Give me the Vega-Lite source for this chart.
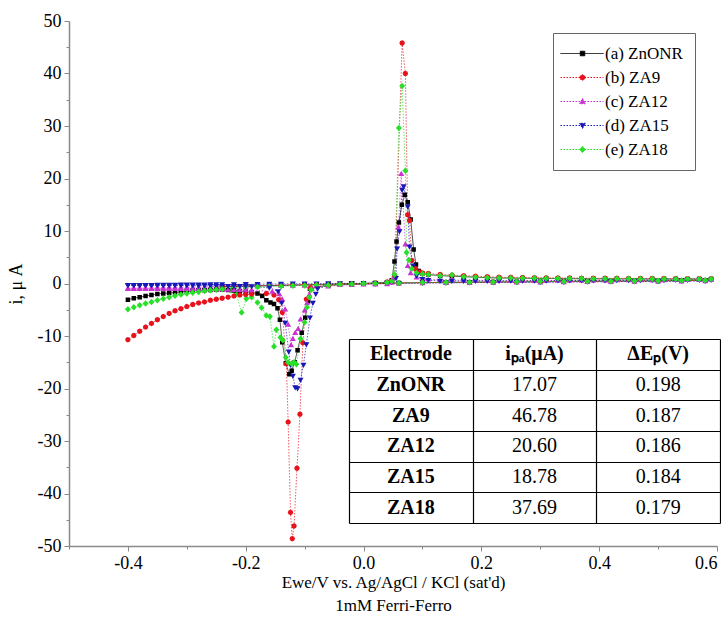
{
  "$schema": "https://vega.github.io/schema/vega-lite/v6.json",
  "width": 648,
  "height": 525,
  "autosize": {"type": "none"},
  "padding": {"left": 69, "top": 21, "right": 4, "bottom": 81},
  "background": "white",
  "config": {
    "view": {"stroke": null},
    "axis": {
      "labelFont": "Liberation Serif", "titleFont": "Liberation Serif",
      "labelFontSize": 18, "titleFontSize": 18, "titleFontWeight": "normal",
      "labelColor": "black", "titleColor": "black",
      "domainColor": "#8a8a8a", "domainWidth": 1.5, "tickColor": "#8a8a8a", "tickWidth": 1,
      "grid": false
    },
    "legend": {"labelFont": "Liberation Serif", "labelFontSize": 17, "labelColor": "black", "symbolStrokeWidth": 1}
  },
  "datasets": {
    "names": [
      {"k": "a", "name": "(a) ZnONR"},
      {"k": "b", "name": "(b) ZA9"},
      {"k": "c", "name": "(c) ZA12"},
      {"k": "d", "name": "(d) ZA15"},
      {"k": "e", "name": "(e) ZA18"}
    ],
    "cv": [
      {"o":1,"x":-0.40,"c":-0.9,"d":-0.35},
      {"o":1.5,"x":-0.39,"c":-0.88,"d":-0.34},
      {"o":2,"x":-0.38,"c":-0.87,"d":-0.33},
      {"o":2.5,"x":-0.37,"c":-0.85,"d":-0.32},
      {"o":3,"x":-0.36,"c":-0.84,"d":-0.31},
      {"o":3.5,"x":-0.35,"c":-0.82,"d":-0.3},
      {"o":4,"x":-0.34,"c":-0.8,"d":-0.29},
      {"o":4.5,"x":-0.33,"c":-0.78,"d":-0.28},
      {"o":5,"x":-0.32,"c":-0.77,"d":-0.27},
      {"o":5.5,"x":-0.31,"c":-0.75,"d":-0.26},
      {"o":6,"x":-0.30,"c":-0.73,"d":-0.25},
      {"o":6.5,"x":-0.29,"c":-0.71,"d":-0.24},
      {"o":7,"x":-0.28,"c":-0.7,"d":-0.23},
      {"o":7.5,"x":-0.27,"c":-0.68,"d":-0.22},
      {"o":8,"x":-0.26,"c":-0.66,"d":-0.21},
      {"o":8.5,"x":-0.25,"c":-0.64,"d":-0.2},
      {"o":9,"x":-0.24,"a":-0.6,"b":-0.5,"c":-0.62,"d":-0.19,"e":-0.9},
      {"o":10,"x":-0.22,"a":-0.55,"b":-0.46,"c":-0.58,"d":-0.17,"e":-0.82},
      {"o":11,"x":-0.20,"a":-0.5,"b":-0.42,"c":-0.55,"d":-0.15,"e":-0.74},
      {"o":12,"x":-0.18,"a":-0.45,"b":-0.38,"c":-0.5,"d":-0.13,"e":-0.66},
      {"o":13,"x":-0.16,"a":-0.4,"b":-0.34,"c":-0.47,"d":-0.11,"e":-0.58},
      {"o":14,"x":-0.14,"a":-0.35,"b":-0.3,"c":-0.43,"d":-0.09,"e":-0.5},
      {"o":15,"x":-0.12,"a":-0.3,"b":-0.26,"c":-0.4,"d":-0.07,"e":-0.43},
      {"o":16,"x":-0.10,"a":-0.25,"b":-0.22,"c":-0.36,"d":-0.05,"e":-0.36},
      {"o":17,"x":-0.08,"a":-0.2,"b":-0.18,"c":-0.32,"d":-0.03,"e":-0.29},
      {"o":18,"x":-0.06,"a":-0.15,"b":-0.14,"c":-0.28,"d":-0.01,"e":-0.22},
      {"o":19,"x":-0.04,"a":-0.1,"b":-0.1,"c":-0.24,"d":0.01,"e":-0.15},
      {"o":20,"x":-0.02,"a":-0.05,"b":-0.05,"c":-0.2,"d":0.03,"e":-0.08},
      {"o":21,"x":0.00,"a":0,"b":0,"c":-0.16,"d":0.05,"e":0},
      {"o":22,"x":0.02,"a":0.1,"b":0.1,"c":-0.12,"d":0.07,"e":0.1},
      {"o":23,"x":0.04,"a":0.2,"b":0.3,"c":-0.08,"d":0.1,"e":0.2},
      {"o":24,"x":0.048,"a":0.6,"b":0.5,"c":0.2,"d":0.3,"e":0.5},
      {"o":30,"x":0.0525,"a":4.2},
      {"o":31,"x":0.056,"a":8.0},
      {"o":32,"x":0.06,"a":11.6},
      {"o":33,"x":0.065,"a":15.0},
      {"o":34,"x":0.07,"a":16.9},
      {"o":35,"x":0.075,"a":15.5},
      {"o":36,"x":0.08,"a":12.2},
      {"o":37,"x":0.085,"a":6.5},
      {"o":38,"x":0.089,"a":3.6},
      {"o":39,"x":0.094,"a":2.4},
      {"o":40,"x":0.1,"a":1.9},
      {"o":30,"x":0.053,"b":1.5},
      {"o":32,"x":0.0655,"b":45.8},
      {"o":34,"x":0.071,"b":40.0},
      {"o":35,"x":0.075,"b":13.1},
      {"o":36,"x":0.078,"b":12.0},
      {"o":37,"x":0.082,"b":4.4},
      {"o":38,"x":0.088,"b":2.8},
      {"o":39,"x":0.095,"b":2.2},
      {"o":40,"x":0.1,"b":2.0},
      {"o":30,"x":0.0525,"c":1.2},
      {"o":31,"x":0.059,"c":10.7},
      {"o":33,"x":0.064,"c":20.9},
      {"o":35,"x":0.071,"c":7.5},
      {"o":37,"x":0.075,"c":3.4},
      {"o":38,"x":0.08,"c":2.0},
      {"o":39,"x":0.09,"c":1.2},
      {"o":40,"x":0.1,"c":0.9},
      {"o":30,"x":0.055,"d":1.0},
      {"o":31,"x":0.057,"d":6.6},
      {"o":32,"x":0.061,"d":9.9},
      {"o":33,"x":0.0655,"d":17.8},
      {"o":34,"x":0.068,"d":18.5},
      {"o":35,"x":0.075,"d":14.6},
      {"o":36,"x":0.078,"d":7.0},
      {"o":37,"x":0.084,"d":3.4},
      {"o":38,"x":0.09,"d":1.5},
      {"o":40,"x":0.1,"d":0.8},
      {"o":30,"x":0.0525,"e":1.7},
      {"o":32,"x":0.06,"e":29.6},
      {"o":33,"x":0.0655,"e":37.6},
      {"o":34,"x":0.071,"e":21.5},
      {"o":35,"x":0.073,"e":5.9},
      {"o":36,"x":0.077,"e":4.5},
      {"o":37,"x":0.082,"e":2.8},
      {"o":38,"x":0.09,"e":2.0},
      {"o":40,"x":0.1,"e":1.8},
      {"o":50,"x":0.11,"a":1.7,"b":1.9,"c":0.8,"d":0.6,"e":1.7},
      {"o":51,"x":0.13,"a":1.5,"b":1.7,"c":0.7,"d":0.5,"e":1.5},
      {"o":52,"x":0.15,"a":1.4,"b":1.6,"c":0.7,"d":0.5,"e":1.6},
      {"o":53,"x":0.17,"a":1.3,"b":1.5,"c":0.6,"d":0.5,"e":1.3},
      {"o":54,"x":0.19,"a":1.2,"b":1.4,"c":0.6,"d":0.5,"e":1.2},
      {"o":55,"x":0.21,"a":1.1,"b":1.3,"c":0.6,"d":0.5,"e":1.1},
      {"o":60,"x":0.23,"a":1.05,"b":1.2,"c":0.55,"d":0.5,"e":1.05},
      {"o":61,"x":0.25,"a":1.03,"b":1.17,"c":0.56,"d":0.51,"e":1.03},
      {"o":62,"x":0.27,"a":1.0,"b":1.14,"c":0.57,"d":0.52,"e":1.01},
      {"o":63,"x":0.29,"a":0.98,"b":1.11,"c":0.58,"d":0.53,"e":0.99},
      {"o":64,"x":0.31,"a":0.96,"b":1.08,"c":0.59,"d":0.54,"e":0.97},
      {"o":65,"x":0.33,"a":0.95,"b":1.06,"c":0.6,"d":0.55,"e":0.95},
      {"o":66,"x":0.35,"a":0.93,"b":1.04,"c":0.61,"d":0.56,"e":0.94},
      {"o":67,"x":0.37,"a":0.92,"b":1.02,"c":0.62,"d":0.57,"e":0.93},
      {"o":68,"x":0.39,"a":0.9,"b":1.0,"c":0.63,"d":0.58,"e":0.92},
      {"o":69,"x":0.41,"a":0.9,"b":0.99,"c":0.64,"d":0.59,"e":0.91},
      {"o":70,"x":0.43,"a":0.89,"b":0.98,"c":0.65,"d":0.6,"e":0.9},
      {"o":71,"x":0.45,"a":0.88,"b":0.97,"c":0.66,"d":0.61,"e":0.89},
      {"o":72,"x":0.47,"a":0.88,"b":0.96,"c":0.67,"d":0.62,"e":0.88},
      {"o":73,"x":0.49,"a":0.87,"b":0.95,"c":0.68,"d":0.63,"e":0.87},
      {"o":74,"x":0.51,"a":0.87,"b":0.94,"c":0.69,"d":0.64,"e":0.86},
      {"o":75,"x":0.53,"a":0.86,"b":0.93,"c":0.7,"d":0.65,"e":0.86},
      {"o":76,"x":0.55,"a":0.86,"b":0.92,"c":0.71,"d":0.66,"e":0.85},
      {"o":77,"x":0.57,"a":0.85,"b":0.91,"c":0.72,"d":0.67,"e":0.85},
      {"o":78,"x":0.59,"a":0.85,"b":0.9,"c":0.73,"d":0.68,"e":0.85},
      {"o":100,"x":0.58,"a":0.6,"b":0.6,"c":0.5,"d":0.5,"e":0.6},
      {"o":101,"x":0.54,"a":0.55,"b":0.55,"c":0.45,"d":0.46,"e":0.56},
      {"o":102,"x":0.50,"a":0.5,"b":0.5,"c":0.41,"d":0.42,"e":0.52},
      {"o":103,"x":0.46,"a":0.47,"b":0.47,"c":0.38,"d":0.39,"e":0.48},
      {"o":104,"x":0.42,"a":0.44,"b":0.44,"c":0.35,"d":0.36,"e":0.45},
      {"o":105,"x":0.38,"a":0.41,"b":0.41,"c":0.32,"d":0.33,"e":0.42},
      {"o":106,"x":0.34,"a":0.38,"b":0.38,"c":0.29,"d":0.3,"e":0.39},
      {"o":107,"x":0.30,"a":0.35,"b":0.35,"c":0.26,"d":0.27,"e":0.36},
      {"o":108,"x":0.26,"a":0.32,"b":0.32,"c":0.23,"d":0.24,"e":0.33},
      {"o":109,"x":0.22,"a":0.29,"b":0.29,"c":0.2,"d":0.21,"e":0.3},
      {"o":110,"x":0.18,"a":0.25,"b":0.25,"c":0.16,"d":0.18,"e":0.26},
      {"o":111,"x":0.14,"a":0.21,"b":0.21,"c":0.12,"d":0.14,"e":0.22},
      {"o":112,"x":0.10,"a":0.16,"b":0.16,"c":0.08,"d":0.1,"e":0.17},
      {"o":113,"x":0.06,"a":0.1,"b":0.1,"c":0.03,"d":0.05,"e":0.11},
      {"o":114,"x":0.02,"a":0.0,"b":0.0,"c":-0.05,"d":0.0,"e":0.02},
      {"o":115,"x":-0.02,"a":-0.1,"b":-0.1,"c":-0.2,"d":-0.1,"e":-0.1},
      {"o":116,"x":-0.06,"a":-0.3,"b":-0.3,"c":-0.5,"d":-0.3,"e":-0.35},
      {"o":120,"x":-0.091,"a":-1.0},
      {"o":121,"x":-0.094,"a":-3.4},
      {"o":122,"x":-0.099,"a":-6.5},
      {"o":123,"x":-0.105,"a":-9.4},
      {"o":124,"x":-0.112,"a":-12.7},
      {"o":125,"x":-0.117,"a":-15.0},
      {"o":126,"x":-0.122,"a":-16.6},
      {"o":127,"x":-0.126,"a":-17.3},
      {"o":128,"x":-0.132,"a":-15.2},
      {"o":130,"x":-0.138,"a":-11.2},
      {"o":131,"x":-0.142,"a":-6.9},
      {"o":132,"x":-0.146,"a":-4.7},
      {"o":133,"x":-0.152,"a":-3.9},
      {"o":134,"x":-0.158,"a":-3.6},
      {"o":135,"x":-0.165,"a":-3.2},
      {"o":136,"x":-0.172,"a":-2.4},
      {"o":137,"x":-0.18,"a":-1.9},
      {"o":120,"x":-0.09,"b":-0.8},
      {"o":121,"x":-0.097,"b":-3.0},
      {"o":122,"x":-0.103,"b":-11.3},
      {"o":124,"x":-0.108,"b":-24.9},
      {"o":125,"x":-0.113,"b":-35.2},
      {"o":126,"x":-0.118,"b":-46.2},
      {"o":127,"x":-0.121,"b":-48.6},
      {"o":128,"x":-0.124,"b":-43.6},
      {"o":129,"x":-0.128,"b":-26.4},
      {"o":130,"x":-0.131,"b":-15.3},
      {"o":131,"x":-0.138,"b":-5.5},
      {"o":132,"x":-0.144,"b":-3.1},
      {"o":133,"x":-0.152,"b":-2.2},
      {"o":134,"x":-0.165,"b":-1.9},
      {"o":120,"x":-0.088,"c":-1.0},
      {"o":121,"x":-0.092,"c":-2.1},
      {"o":122,"x":-0.096,"c":-3.7},
      {"o":123,"x":-0.1,"c":-5.1},
      {"o":124,"x":-0.107,"c":-6.8},
      {"o":125,"x":-0.111,"c":-8.6},
      {"o":126,"x":-0.116,"c":-9.4},
      {"o":127,"x":-0.12,"c":-10.5},
      {"o":128,"x":-0.123,"c":-11.7},
      {"o":129,"x":-0.128,"c":-7.8},
      {"o":130,"x":-0.133,"c":-4.9},
      {"o":131,"x":-0.138,"c":-3.0},
      {"o":132,"x":-0.143,"c":-2.0},
      {"o":133,"x":-0.155,"c":-1.5},
      {"o":119,"x":-0.078,"d":-1.0},
      {"o":120,"x":-0.081,"d":-2.0},
      {"o":121,"x":-0.086,"d":-3.7},
      {"o":122,"x":-0.091,"d":-6.5},
      {"o":123,"x":-0.097,"d":-11.6},
      {"o":124,"x":-0.102,"d":-15.5},
      {"o":125,"x":-0.107,"d":-18.4},
      {"o":126,"x":-0.112,"d":-20.0},
      {"o":127,"x":-0.116,"d":-19.8},
      {"o":128,"x":-0.12,"d":-17.6},
      {"o":129,"x":-0.124,"d":-15.5},
      {"o":130,"x":-0.127,"d":-13.0},
      {"o":131,"x":-0.133,"d":-7.5},
      {"o":132,"x":-0.139,"d":-3.7},
      {"o":133,"x":-0.145,"d":-1.5},
      {"o":134,"x":-0.16,"d":-0.8},
      {"o":120,"x":-0.089,"e":-1.2},
      {"o":121,"x":-0.092,"e":-2.6},
      {"o":122,"x":-0.096,"e":-4.5},
      {"o":123,"x":-0.1,"e":-7.4},
      {"o":124,"x":-0.107,"e":-10.5},
      {"o":125,"x":-0.114,"e":-15.4},
      {"o":126,"x":-0.118,"e":-15.0},
      {"o":127,"x":-0.122,"e":-15.3},
      {"o":128,"x":-0.128,"e":-15.0},
      {"o":129,"x":-0.132,"e":-14.1},
      {"o":130,"x":-0.137,"e":-10.8},
      {"o":131,"x":-0.141,"e":-10.3},
      {"o":132,"x":-0.148,"e":-8.8},
      {"o":133,"x":-0.152,"e":-12.0},
      {"o":134,"x":-0.159,"e":-6.3},
      {"o":135,"x":-0.165,"e":-6.1},
      {"o":136,"x":-0.173,"e":-4.6},
      {"o":137,"x":-0.18,"e":-3.6},
      {"o":138,"x":-0.19,"e":-2.6},
      {"o":139,"x":-0.199,"e":-2.9},
      {"o":140,"x":-0.207,"e":-5.5},
      {"o":142,"x":-0.216,"e":-2.0},
      {"o":143,"x":-0.225,"e":-1.3},
      {"o":145,"x":-0.19,"a":-1.7,"b":-2.0,"c":-1.25,"d":-0.55},
      {"o":145.5,"x":-0.20,"a":-1.55,"b":-2.1,"c":-1.22,"d":-0.52},
      {"o":146,"x":-0.21,"a":-1.45,"b":-2.2,"c":-1.2,"d":-0.5},
      {"o":146.5,"x":-0.22,"a":-1.35,"b":-2.4,"c":-1.17,"d":-0.5},
      {"o":147,"x":-0.23,"a":-1.25,"b":-2.6,"c":-1.15,"d":-0.5},
      {"o":147.5,"x":-0.24,"a":-1.2,"b":-2.8,"c":-1.12,"d":-0.5,"e":-1.1},
      {"o":148,"x":-0.25,"a":-1.2,"b":-3.0,"c":-1.1,"d":-0.5,"e":-1.2},
      {"o":148.5,"x":-0.26,"a":-1.25,"b":-3.2,"c":-1.07,"d":-0.47,"e":-1.3},
      {"o":149,"x":-0.27,"a":-1.3,"b":-3.5,"c":-1.05,"d":-0.45,"e":-1.45},
      {"o":149.5,"x":-0.28,"a":-1.35,"b":-3.7,"c":-1.02,"d":-0.42,"e":-1.6},
      {"o":150,"x":-0.29,"a":-1.4,"b":-4.0,"c":-1.0,"d":-0.4,"e":-1.75},
      {"o":150.5,"x":-0.30,"a":-1.5,"b":-4.4,"c":-1.0,"d":-0.4,"e":-1.9},
      {"o":151,"x":-0.31,"a":-1.6,"b":-4.8,"c":-1.0,"d":-0.4,"e":-2.1},
      {"o":151.5,"x":-0.32,"a":-1.7,"b":-5.2,"c":-1.0,"d":-0.4,"e":-2.35},
      {"o":152,"x":-0.33,"a":-1.8,"b":-5.7,"c":-1.0,"d":-0.4,"e":-2.6},
      {"o":152.5,"x":-0.34,"a":-1.9,"b":-6.3,"c":-1.0,"d":-0.4,"e":-2.9},
      {"o":153,"x":-0.35,"a":-2.0,"b":-6.9,"c":-1.0,"d":-0.4,"e":-3.2},
      {"o":153.5,"x":-0.36,"a":-2.2,"b":-7.6,"c":-1.0,"d":-0.4,"e":-3.5},
      {"o":154,"x":-0.37,"a":-2.4,"b":-8.3,"c":-1.0,"d":-0.4,"e":-3.8},
      {"o":154.5,"x":-0.38,"a":-2.6,"b":-9.1,"c":-1.0,"d":-0.4,"e":-4.15},
      {"o":155,"x":-0.39,"a":-2.8,"b":-9.9,"c":-1.0,"d":-0.4,"e":-4.5},
      {"o":156,"x":-0.40,"a":-3.1,"b":-10.7,"c":-1.0,"d":-0.4,"e":-4.9}
    ],
    "tbl": [
      {"Electrode": "Electrode", "ipa": "iₚₐ(μA)", "dEp": "ΔEₚ(V)"},
      {"Electrode": "ZnONR", "ipa": "17.07", "dEp": "0.198"},
      {"Electrode": "ZA9", "ipa": "46.78", "dEp": "0.187"},
      {"Electrode": "ZA12", "ipa": "20.60", "dEp": "0.186"},
      {"Electrode": "ZA15", "ipa": "18.78", "dEp": "0.184"},
      {"Electrode": "ZA18", "ipa": "37.69", "dEp": "0.179"}
    ]
  },
  "resolve": {"scale": {"x": "independent", "y": "independent"}, "axis": {"x": "independent", "y": "independent"}},
  "layer": [
    {
      "resolve": {"axis": {"x": "independent", "y": "independent"}},
      "layer": [
        {
          "data": {"values": [{"mx": 0, "my": 0}]},
          "mark": {"type": "point", "opacity": 0},
          "encoding": {
            "x": {"field": "mx", "type": "quantitative", "scale": {"domain": [-0.5, 0.6], "nice": false, "zero": false},
                  "axis": {"orient": "bottom", "values": [-0.5, -0.3, -0.1, 0.1, 0.3, 0.5], "labels": false, "domain": false, "tickSize": 3, "title": null}},
            "y": {"field": "my", "type": "quantitative", "scale": {"domain": [-50, 50], "nice": false},
                  "axis": {"orient": "left", "values": [-45, -35, -25, -15, -5, 5, 15, 25, 35, 45], "labels": false, "domain": false, "tickSize": 3, "title": null}}
          }
        },
        {
          "data": {"name": "cv"},
          "transform": [
            {"fold": ["a", "b", "c", "d", "e"], "as": ["k", "v"]},
            {"filter": "isValid(datum.v)"},
            {"lookup": "k", "from": {"data": {"name": "names"}, "key": "k", "fields": ["name"]}}
          ],
          "encoding": {
            "x": {"field": "x", "type": "quantitative", "scale": {"domain": [-0.5, 0.6], "nice": false, "zero": false},
                  "axis": {"orient": "bottom", "values": [-0.4, -0.2, 0, 0.2, 0.4, 0.6], "labelExpr": "datum.value < 0 ? '-' + format(-datum.value, '.1f') : format(datum.value, '.1f')",
                           "tickSize": 5, "labelPadding": 3, "title": ["Ewe/V vs. Ag/AgCl / KCl (sat'd)", "1mM Ferri-Ferro"], "titleFontSize": 17, "titleLineHeight": 23, "titlePadding": 2}},
            "y": {"field": "v", "type": "quantitative", "scale": {"domain": [-50, 50], "nice": false},
                  "axis": {"orient": "left", "values": [-50, -40, -30, -20, -10, 0, 10, 20, 30, 40, 50], "labelExpr": "datum.value < 0 ? '-' + format(-datum.value, 'd') : format(datum.value, 'd')",
                           "tickSize": 5, "labelPadding": 3, "title": "i, μ A", "titlePadding": 12}},
            "color": {"field": "name", "type": "nominal",
                      "scale": {"domain": ["(a) ZnONR", "(b) ZA9", "(c) ZA12", "(d) ZA15", "(e) ZA18"], "range": ["#000000", "#e8121c", "#c832d2", "#1818b8", "#28e028"]},
                      "legend": {"orient": "none", "legendX": 484, "legendY": 12, "title": null, "padding": 12, "strokeColor": "#666666", "fillColor": "white",
                                 "symbolSize": 100, "symbolOffset": 9, "labelOffset": 14, "rowPadding": 6, "symbolStrokeWidth": 1}}
          },
          "layer": [
            {
              "mark": {"type": "line", "strokeWidth": 0.7, "clip": true},
              "encoding": {
                "strokeDash": {"field": "name", "type": "nominal",
                               "scale": {"domain": ["(a) ZnONR", "(b) ZA9", "(c) ZA12", "(d) ZA15", "(e) ZA18"], "range": [[1, 0], [1.5, 1.5], [1.5, 1.5], [1.5, 1.5], [1.5, 1.5]]},
                               "legend": {"orient": "none", "legendX": 484, "legendY": 12, "title": null, "padding": 12, "strokeColor": "#666666", "fillColor": "white",
                                          "symbolSize": 100, "symbolOffset": 9, "labelOffset": 14, "rowPadding": 6, "symbolStrokeWidth": 1}},
                "order": {"field": "o", "type": "quantitative"}
              }
            },
            {
              "mark": {"type": "point", "filled": true, "size": 100, "opacity": 1, "strokeWidth": 0, "clip": true},
              "encoding": {
                "shape": {"field": "name", "type": "nominal",
                          "scale": {"domain": ["(a) ZnONR", "(b) ZA9", "(c) ZA12", "(d) ZA15", "(e) ZA18"],
                                    "range": [
                                      "M-4.4,0H4.2M-0.45,-0.45H0.45V0.45H-0.45Z",
                                      "M-4.4,0H4.2M0.55,0L0.39,0.39L0,0.55L-0.39,0.39L-0.55,0L-0.39,-0.39L0,-0.55L0.39,-0.39Z",
                                      "M-4.4,0H4.2M0,-0.6L0.6,0.45L-0.6,0.45Z",
                                      "M-4.4,0H4.2M0,0.6L0.6,-0.45L-0.6,-0.45Z",
                                      "M-4.4,0H4.2M0,-0.65L0.6,0L0,0.65L-0.6,0Z"
                                    ]},
                          "legend": {"orient": "none", "legendX": 484, "legendY": 12, "title": null, "padding": 12, "strokeColor": "#666666", "fillColor": "white",
                                     "symbolSize": 100, "symbolOffset": 9, "labelOffset": 14, "rowPadding": 6, "symbolStrokeWidth": 1}}
              }
            }
          ]
        }
      ]
    },
    {
      "data": {"name": "tbl"},
      "transform": [{"fold": ["Electrode", "ipa", "dEp"], "as": ["col", "val"]}],
      "encoding": {
        "x": {"field": "col", "type": "nominal",
              "scale": {"type": "band", "domain": ["Electrode", "ipa", "dEp"], "range": [280, 651], "paddingInner": 0, "paddingOuter": 0},
              "axis": {"orient": "top", "labels": false, "ticks": false, "domain": false, "title": null, "grid": true, "gridColor": "black", "gridWidth": 1.2, "tickBand": "extent", "tickExtra": true, "zindex": 1}},
        "y": {"field": "Electrode", "type": "nominal",
              "scale": {"type": "band", "domain": ["Electrode", "ZnONR", "ZA9", "ZA12", "ZA15", "ZA18"], "range": [318, 502], "paddingInner": 0, "paddingOuter": 0},
              "axis": {"orient": "left", "labels": false, "ticks": false, "domain": false, "title": null, "grid": true, "gridColor": "black", "gridWidth": 1.2, "tickBand": "extent", "tickExtra": true, "zindex": 1}},
        "text": {"field": "val"}
      },
      "layer": [
        {
          "transform": [{"filter": "datum.Electrode === 'Electrode' || datum.col === 'Electrode'"}],
          "mark": {"type": "text", "font": "Liberation Serif", "fontSize": 20, "fontWeight": "bold", "baseline": "middle", "align": "center", "color": "black"}
        },
        {
          "transform": [{"filter": "datum.Electrode !== 'Electrode' && datum.col !== 'Electrode'"}],
          "mark": {"type": "text", "font": "Liberation Serif", "fontSize": 20, "fontWeight": "normal", "baseline": "middle", "align": "center", "color": "black"}
        }
      ]
    }
  ]
}
